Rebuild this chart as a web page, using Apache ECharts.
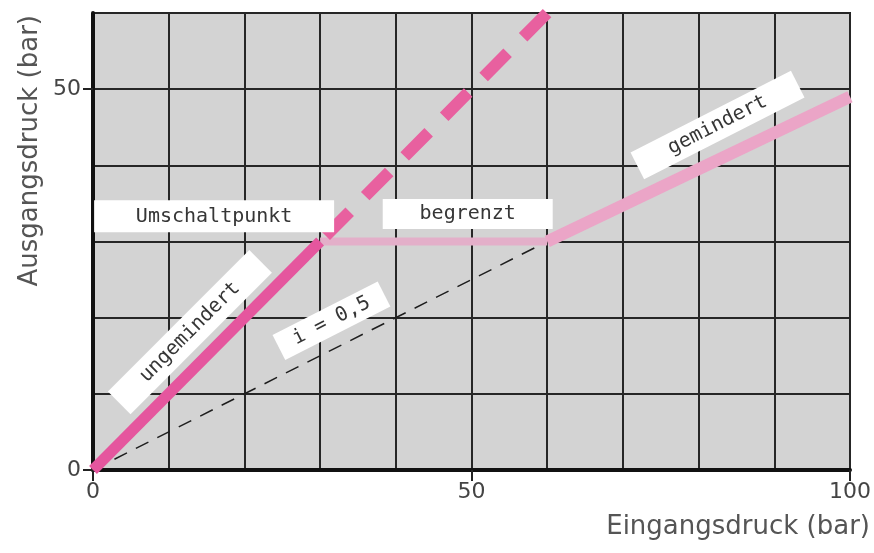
<!DOCTYPE html>
<html>
<head>
<meta charset="utf-8">
<script src="https://cdn.jsdelivr.net/npm/echarts@6/dist/echarts.min.js"></script>
<style>
  html, body { margin: 0; padding: 0; background: #fff; }
  #chart { width: 874px; height: 553px; }
</style>
</head>
<body>
<div id="chart"></div>
<script>
// Kennlinie: Eingangsdruck -> Ausgangsdruck (bar)
const ungemindert = [[0, 0], [30, 30]]
const ungemindertWeiter = [[30, 30], [60, 60]]
const begrenzt = [[30, 30], [60, 30]]
const gemindert = [[60, 30], [100, 49]]
const verhaeltnis = [[0, 0], [60, 30]] // i = 0,5

const xTickLabels = [0, 50, 100]
const yTickLabels = [0, 50]

const noteTexts = ['Umschaltpunkt', 'begrenzt', 'ungemindert', 'i = 0,5', 'gemindert']
const noteAnchors = [[16, 33.3], [49.5, 33.6], [12.8, 18.1], [31.5, 19.6], [82.5, 45.3]]

const chart = echarts.init(document.getElementById('chart'), null, { renderer: 'canvas' })

const titleFont = {
  fontFamily: 'DejaVu Sans',
  fontSize: 26,
  color: '#555'
}
const tickFont = {
  fontFamily: 'DejaVu Sans',
  fontSize: 22,
  color: '#444'
}

// box size + angle for each note
const noteBox = [
  { width: 240, height: 32, rotate: 0 },
  { width: 170, height: 30, rotate: 0 },
  { width: 200, height: 32, rotate: 45 },
  { width: 118, height: 28, rotate: 27 },
  { width: 180, height: 30, rotate: 27 }
]

chart.setOption({
  animation: false,
  grid: {
    left: 93,
    right: 23,
    top: 13,
    bottom: 83,
    show: true,
    backgroundColor: '#d3d3d3',
    borderColor: '#222',
    borderWidth: 2
  },
  xAxis: [
    {
      // raster every 10 bar
      type: 'value',
      position: 'bottom',
      min: 0,
      max: 100,
      interval: 10,
      name: 'Eingangsdruck (bar)',
      nameLocation: 'end',
      nameGap: 20,
      nameTextStyle: Object.assign({}, titleFont, {
        align: 'right',
        verticalAlign: 'top',
        padding: [44, 0, 0, 0]
      }),
      axisLine: { lineStyle: { color: '#111', width: 4 } },
      axisTick: { show: false },
      axisLabel: { show: false },
      splitLine: { show: true, lineStyle: { color: '#262626', width: 2 } }
    },
    {
      // labelled ticks only
      type: 'value',
      position: 'bottom',
      min: 0,
      max: 100,
      axisLine: { show: false },
      axisTick: {
        show: true,
        inside: false,
        customValues: xTickLabels,
        length: 11,
        lineStyle: { color: '#222', width: 2 }
      },
      axisLabel: Object.assign({}, tickFont, {
        customValues: xTickLabels,
        margin: 11
      }),
      splitLine: { show: false }
    }
  ],
  yAxis: [
    {
      type: 'value',
      position: 'left',
      min: 0,
      max: 60,
      interval: 10,
      name: 'Ausgangsdruck (bar)',
      nameLocation: 'end',
      nameGap: -2,
      nameRotate: 90,
      nameTextStyle: Object.assign({}, titleFont, {
        align: 'right',
        verticalAlign: 'bottom',
        padding: [0, 0, 50, 0]
      }),
      axisLine: { show: true, lineStyle: { color: '#111', width: 4 } },
      axisTick: { show: false },
      axisLabel: { show: false },
      splitLine: { show: true, lineStyle: { color: '#262626', width: 2 } }
    },
    {
      type: 'value',
      position: 'left',
      min: 0,
      max: 60,
      axisLine: { show: false },
      axisTick: {
        show: true,
        inside: false,
        customValues: yTickLabels,
        length: 10,
        lineStyle: { color: '#222', width: 2 }
      },
      axisLabel: Object.assign({}, tickFont, {
        customValues: yTickLabels,
        margin: 12
      }),
      splitLine: { show: false }
    }
  ],
  series: [
    {
      name: 'i = 0,5',
      type: 'line',
      data: verhaeltnis,
      symbol: 'none',
      lineStyle: { color: '#1e1e1e', width: 1.5, type: [14, 10] },
      z: 3
    },
    {
      name: 'begrenzt',
      type: 'line',
      data: begrenzt,
      symbol: 'none',
      lineStyle: { color: '#e3afc9', width: 8 },
      z: 4
    },
    {
      name: 'gemindert',
      type: 'line',
      data: gemindert,
      symbol: 'none',
      lineStyle: { color: '#eba5c7', width: 12 },
      z: 4
    },
    {
      name: 'ungemindert',
      type: 'line',
      data: ungemindert,
      symbol: 'none',
      lineStyle: { color: '#e5569e', width: 11 },
      z: 5
    },
    {
      name: 'ungemindert (weiter)',
      type: 'line',
      data: ungemindertWeiter,
      symbol: 'none',
      lineStyle: { color: '#e8609f', width: 12, type: [34, 22], dashOffset: -8 },
      z: 5
    },
    {
      name: 'Hinweise',
      type: 'scatter',
      symbolSize: 1,
      silent: true,
      z: 10,
      itemStyle: { color: 'transparent', opacity: 1 },
      label: {
        show: true,
        position: 'inside',
        formatter: '{b}',
        backgroundColor: '#ffffff',
        color: '#363636',
        fontFamily: 'DejaVu Sans Mono',
        fontSize: 20,
        align: 'center',
        verticalAlign: 'middle'
      },
      data: noteTexts.map((t, i) => ({
        name: t,
        value: noteAnchors[i],
        label: {
          width: noteBox[i].width,
          height: noteBox[i].height,
          lineHeight: noteBox[i].height,
          rotate: noteBox[i].rotate
        }
      }))
    }
  ]
})
</script>
</body>
</html>
